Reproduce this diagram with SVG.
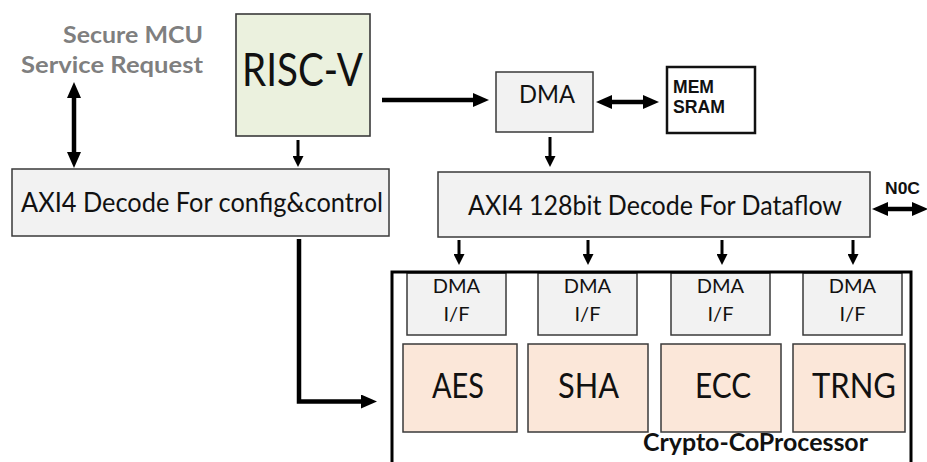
<svg xmlns="http://www.w3.org/2000/svg" width="927" height="462" viewBox="0 0 927 462">
  <defs>
    <style>
      .box { fill: #f2f2f2; stroke: #3a3a3a; stroke-width: 1.5; }
      .cpu { fill: #ebf1de; stroke: #3a3a3a; stroke-width: 1.6; }
      .eng { fill: #fbe7d9; stroke: #3a3a3a; stroke-width: 1.5; }
      .mem { fill: #ffffff; stroke: #111111; stroke-width: 2.5; }
      .frame { fill: none; stroke: #000000; stroke-width: 3; }
      .t { font-family: Lato, "Open Sans", "Liberation Sans", sans-serif; fill: #111111; }
      .tb { font-family: Lato, "Open Sans", "Liberation Sans", sans-serif; font-weight: bold; fill: #111111; }
      .ta { font-family: "Liberation Sans", Arial, sans-serif; font-weight: bold; fill: #111111; }
      .req { font-family: Lato, "Open Sans", "Liberation Sans", sans-serif; font-weight: bold; fill: #7f7f7f; font-size: 23px; }
      .wire { fill: none; stroke: #000000; stroke-width: 4.5; }
      .wire-s { fill: none; stroke: #000000; stroke-width: 3; }
    </style>
    <marker id="hb" markerUnits="userSpaceOnUse" markerWidth="16" markerHeight="14" refX="0" refY="7" orient="auto-start-reverse">
      <path d="M0,0 L16,7 L0,14 z" fill="#000000"/>
    </marker>
    <marker id="hs" markerUnits="userSpaceOnUse" markerWidth="11" markerHeight="11" refX="0" refY="5.5" orient="auto-start-reverse">
      <path d="M0,0 L11,5.5 L0,11 z" fill="#000000"/>
    </marker>
  </defs>

  <rect width="927" height="462" fill="#ffffff"/>

  <!-- external request label -->
  <g id="service-request">
    <text class="req" x="63" y="43" textLength="140" lengthAdjust="spacingAndGlyphs">Secure MCU</text>
    <text class="req" x="21" y="73" textLength="182" lengthAdjust="spacingAndGlyphs">Service Request</text>
  </g>

  <!-- RISC-V core -->
  <g id="riscv">
    <rect class="cpu" x="236" y="14" width="134" height="122"/>
    <text class="t" x="242" y="86" font-size="46" textLength="121" lengthAdjust="spacingAndGlyphs">RISC-V</text>
  </g>

  <!-- control-path decoder -->
  <g id="axi-config">
    <rect class="box" x="12" y="169" width="377" height="67"/>
    <text class="t" x="21" y="212" font-size="27" textLength="362" lengthAdjust="spacingAndGlyphs">AXI4 Decode For config&amp;control</text>
  </g>

  <!-- DMA engine -->
  <g id="dma">
    <rect class="box" x="496" y="72" width="97" height="60"/>
    <text class="t" x="519" y="103" font-size="25" textLength="56" lengthAdjust="spacingAndGlyphs">DMA</text>
  </g>

  <!-- on-chip memory -->
  <g id="mem">
    <rect class="mem" x="667" y="67" width="88" height="66"/>
    <text class="ta" x="673" y="93" font-size="17.5" textLength="41" lengthAdjust="spacingAndGlyphs">MEM</text>
    <text class="ta" x="673" y="113" font-size="17.5" textLength="52" lengthAdjust="spacingAndGlyphs">SRAM</text>
  </g>

  <!-- data-path decoder -->
  <g id="axi-dataflow">
    <rect class="box" x="438" y="172" width="432" height="65"/>
    <text class="t" x="468" y="215" font-size="27" textLength="374" lengthAdjust="spacingAndGlyphs">AXI4 128bit Decode For Dataflow</text>
  </g>

  <!-- network-on-chip label -->
  <g id="noc">
    <text class="ta" x="885" y="194" font-size="16.5" textLength="35" lengthAdjust="spacingAndGlyphs">N0C</text>
  </g>

  <!-- crypto co-processor with its four engines -->
  <g id="crypto-coprocessor">
    <g id="aes">
      <rect class="box" x="407" y="273" width="99" height="62"/>
      <text class="t" x="456.5" y="293" font-size="20" text-anchor="middle">DMA</text>
      <text class="t" x="456.5" y="321" font-size="20" text-anchor="middle">I/F</text>
      <rect class="eng" x="403" y="344" width="114" height="88"/>
      <text class="t" x="432" y="398" font-size="34" textLength="52" lengthAdjust="spacingAndGlyphs">AES</text>
    </g>
    <g id="sha">
      <rect class="box" x="538" y="273" width="99" height="62"/>
      <text class="t" x="587.5" y="293" font-size="20" text-anchor="middle">DMA</text>
      <text class="t" x="587.5" y="321" font-size="20" text-anchor="middle">I/F</text>
      <rect class="eng" x="528" y="344" width="120" height="88"/>
      <text class="t" x="558" y="398" font-size="34" textLength="61" lengthAdjust="spacingAndGlyphs">SHA</text>
    </g>
    <g id="ecc">
      <rect class="box" x="671" y="273" width="99" height="62"/>
      <text class="t" x="720.5" y="293" font-size="20" text-anchor="middle">DMA</text>
      <text class="t" x="720.5" y="321" font-size="20" text-anchor="middle">I/F</text>
      <rect class="eng" x="661" y="344" width="120" height="88"/>
      <text class="t" x="695" y="398" font-size="34" textLength="56" lengthAdjust="spacingAndGlyphs">ECC</text>
    </g>
    <g id="trng">
      <rect class="box" x="803" y="273" width="99" height="62"/>
      <text class="t" x="852.5" y="293" font-size="20" text-anchor="middle">DMA</text>
      <text class="t" x="852.5" y="321" font-size="20" text-anchor="middle">I/F</text>
      <rect class="eng" x="793" y="344" width="112" height="88"/>
      <text class="t" x="812" y="398" font-size="34" textLength="84" lengthAdjust="spacingAndGlyphs">TRNG</text>
    </g>
    <path class="frame" d="M392,470 V272 H911 V470"/>
    <text class="tb" x="643" y="451" font-size="24" textLength="225" lengthAdjust="spacingAndGlyphs">Crypto-CoProcessor</text>
  </g>

  <!-- connectors -->
  <g id="connectors">
    <line class="wire" x1="74" y1="98" x2="74" y2="152" marker-start="url(#hb)" marker-end="url(#hb)"/>
    <line class="wire-s" x1="298" y1="140" x2="298" y2="156" marker-end="url(#hs)"/>
    <line class="wire" x1="382" y1="100" x2="473" y2="100" marker-end="url(#hb)"/>
    <line class="wire" x1="612" y1="102" x2="643" y2="102" marker-start="url(#hb)" marker-end="url(#hb)"/>
    <line class="wire-s" x1="550" y1="137" x2="550" y2="156" marker-end="url(#hs)"/>
    <line class="wire" x1="888" y1="209" x2="912" y2="209" marker-start="url(#hb)" marker-end="url(#hb)"/>
    <line class="wire-s" x1="459" y1="240" x2="459" y2="254" marker-end="url(#hs)"/>
    <line class="wire-s" x1="588" y1="240" x2="588" y2="254" marker-end="url(#hs)"/>
    <line class="wire-s" x1="722" y1="240" x2="722" y2="254" marker-end="url(#hs)"/>
    <line class="wire-s" x1="853" y1="240" x2="853" y2="254" marker-end="url(#hs)"/>
    <path class="wire" d="M299,239 V401.5 H361" marker-end="url(#hb)"/>
  </g>
</svg>
